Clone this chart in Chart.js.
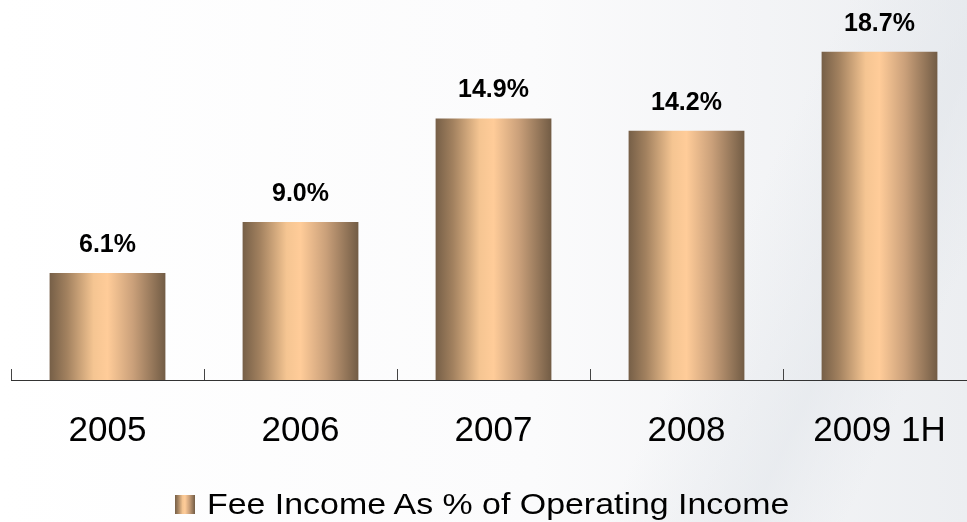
<!DOCTYPE html>
<html>
<head>
<meta charset="utf-8">
<script src="https://cdn.jsdelivr.net/npm/chart.js@4.4.1/dist/chart.umd.min.js"></script>
<style>
  html, body { margin: 0; padding: 0; overflow: hidden; }
  body {
    position: relative;
    width: 967px; height: 522px;
    font-family: "Liberation Sans", Arial, sans-serif;
    background:
      linear-gradient(115deg, rgba(255,255,255,0) 70%, rgba(225,229,234,0.55) 82%, rgba(255,255,255,0) 90%),
      linear-gradient(90deg, #ffffff 0%, #fbfbfc 55%, #eceef1 100%);
  }
  #wrap { position: absolute; left: 0; top: 0; width: 1000px; height: 522px; }
  #legend-box {
    position: absolute; left: 175px; top: 495px; width: 20px; height: 19px;
    background: linear-gradient(90deg, #765f47 0%, #a2815f 15%, #f5c592 38%, #ffcc99 50%, #caa07a 72%, #725c45 100%);
  }
  #legend-text {
    position: absolute; left: 207px; top: 489px;
    font-size: 30px; line-height: 30px; color: #000; white-space: nowrap;
    transform: scaleX(1.13); transform-origin: 0 0;
  }
</style>
</head>
<body>
<div id="wrap"><canvas id="chartCanvas" width="1000" height="522"></canvas></div>
<div id="legend-box"></div>
<div id="legend-text"></div>
<script>
// fee income share of operating income, per year
var years = ['2005', '2006', '2007', '2008', '2009 1H']
var feeShare = [6.1, 9.0, 14.9, 14.2, 18.7]
var seriesName = 'Fee Income As % of Operating Income'

var barPct = 0.6
var fontFam = '"Liberation Sans", Arial, sans-serif'

document.getElementById('legend-text').textContent = seriesName

// horizontal shading used on every bar: dark edges, light peach middle
function shade(g) {
    g.addColorStop(0, '#765f47')
    g.addColorStop(0.15, '#a2815f')
    g.addColorStop(0.38, '#f5c592')
    g.addColorStop(0.5, '#ffcc99')
    g.addColorStop(0.72, '#caa07a')
    g.addColorStop(1, '#725c45')
    return g
}

// value labels above the bars
var valueLabels = {
    id: 'valueLabels',
    afterDatasetsDraw(chart) {
        var ctx = chart.ctx
        var meta = chart.getDatasetMeta(0)
        ctx.save()
        ctx.font = 'bold 25px ' + fontFam
        ctx.fillStyle = '#000'
        ctx.textAlign = 'center'
        ctx.textBaseline = 'middle'
        meta.data.forEach((bar, i) => {
            ctx.fillText(feeShare[i].toFixed(1) + '%', bar.x, bar.y - 28)
        })
        ctx.restore()
    }
}

var canvasChart = document.getElementById('chartCanvas')
var myChart = new Chart(canvasChart, {
    type: 'bar',
    data: {
        labels: years,
        datasets: [{
            label: seriesName,
            data: feeShare,
            barPercentage: barPct,
            categoryPercentage: 1,
            borderWidth: 0,
            backgroundColor: ctx => {
                var chart = ctx.chart
                var xs = chart.scales.x
                if (!xs || ctx.type !== 'data') return '#ffcc99'
                var center = xs.getPixelForValue(ctx.dataIndex)
                var w = xs.width / years.length * barPct
                // scale not laid out yet
                if (!isFinite(center) || !isFinite(w) || w <= 0) return '#ffcc99'
                return shade(chart.ctx.createLinearGradient(center - w / 2, 0, center + w / 2, 0))
            }
        }]
    },
    options: {
        responsive: false,
        animation: false,
        layout: { padding: { left: 11, right: 24, top: 29, bottom: 28 } },
        scales: {
            y: { display: false, min: 0, max: 20 },
            x: {
                grid: {
                    offset: true,
                    drawOnChartArea: false,
                    tickLength: -11,
                    tickColor: '#444',
                    tickWidth: 1
                },
                border: { display: true, color: '#333', width: 1 },
                ticks: {
                    color: '#000',
                    padding: 41.5,
                    font: { family: fontFam, size: 35, lineHeight: 1.2 }
                }
            }
        },
        plugins: {
            tooltip: { enabled: false },
            legend: { display: false }
        }
    },
    plugins: [valueLabels]
})
</script>
</body>
</html>
